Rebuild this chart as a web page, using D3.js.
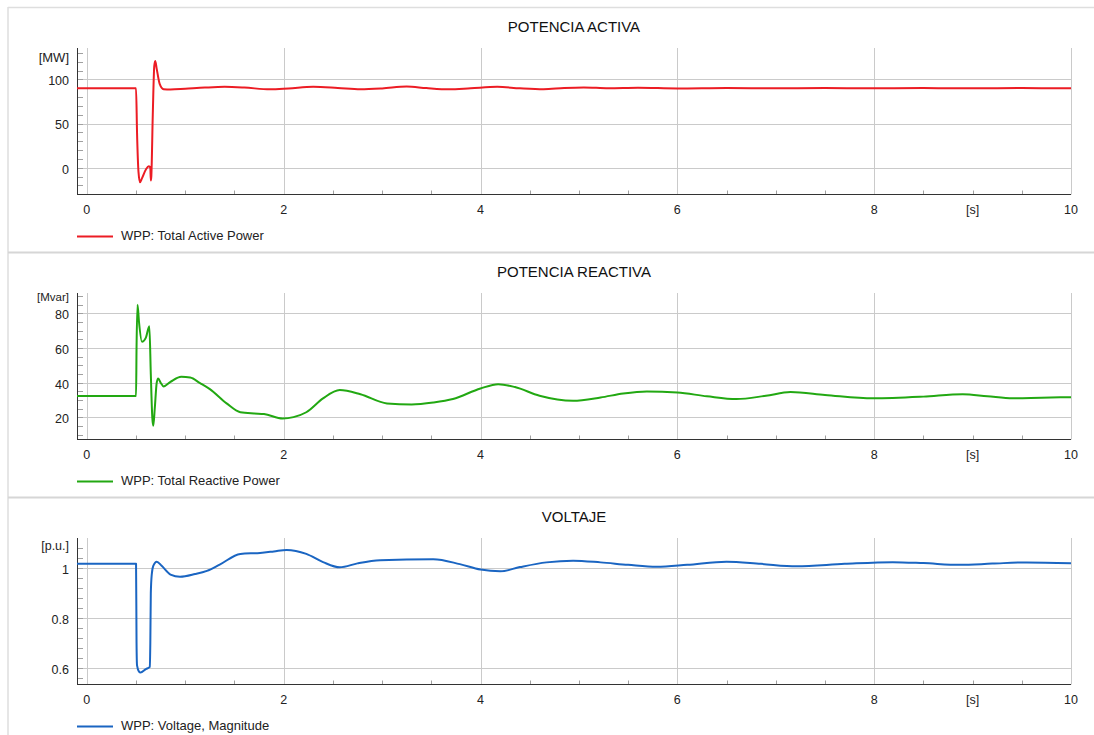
<!DOCTYPE html>
<html>
<head>
<meta charset="utf-8">
<script src="https://cdn.jsdelivr.net/npm/d3@7"></script>
<style>
  body { margin: 0; background: #fff; }
  svg { display: block; font-family: "Liberation Sans", Arial, sans-serif; }
</style>
</head>
<body>
<svg id="chart" width="1094" height="735"></svg>
<script>
// time axis
const xTicks = [0, 2, 4, 6, 8, 10];
const xMinorTicks = d3.range(0.5, 10, 0.5);

// active power [MW]
const timeP = [-0.1, 0.5, 0.51, 0.525, 0.54, 0.56, 0.6, 0.63, 0.645, 0.65, 0.655, 0.67, 0.685, 0.695, 0.71, 0.74, 0.78, 0.85,
  1.0, 1.2, 1.4, 1.6, 1.86, 2.05, 2.3, 2.55, 2.78, 3.0, 3.25, 3.45, 3.68, 3.9, 4.17, 4.4, 4.64, 4.85, 5.05, 5.3, 5.6,
  6.0, 6.5, 7.0, 7.5, 8.0, 8.5, 9.0, 9.5, 10];
const activePower = [90, 90, 40, -5, -16.4, -12, -2, 1.8, 0, -14.4, -10, 60, 115, 121, 112, 95, 89, 88.6,
  89.5, 90.8, 91.6, 90.8, 88.8, 89.8, 91.6, 90.3, 88.8, 89.8, 92, 90.2, 88.8, 90, 91.6, 90, 89, 90.4, 91, 90, 90.6,
  89.8, 90.4, 89.9, 90.3, 89.9, 90.2, 90, 90.2, 90];
const pMajor = [0, 50, 100];
const pMinor = d3.range(-30, 131, 10);

// reactive power [Mvar]
const timeQ = [-0.1, 0.5, 0.505, 0.515, 0.53, 0.56, 0.6, 0.635, 0.65, 0.665, 0.675, 0.69, 0.71, 0.725, 0.75, 0.78, 0.85, 0.96,
  1.05, 1.15, 1.25, 1.42, 1.56, 1.7, 1.8, 1.99, 2.1, 2.23, 2.4, 2.57, 2.78, 3.05, 3.3, 3.52, 3.72, 4.0, 4.18, 4.35, 4.6,
  4.94, 5.22, 5.45, 5.69, 6.0, 6.3, 6.6, 6.9, 7.15, 7.5, 7.99, 8.5, 8.9, 9.15, 9.41, 9.7, 10];
const reactivePower = [32.3, 32.3, 60, 85, 75, 63.6, 66, 72.5, 45, 20, 15.2, 25, 40, 42.5, 40, 37.9, 40.5, 43.4,
  43, 39.8, 36.3, 28.1, 23, 22.3, 22, 19.4, 20.2, 23, 31, 35.8, 33.4, 28.1, 27.5, 28.6, 30.6, 36.7, 39.2, 37.5, 32.5,
  29.6, 31.5, 33.8, 35, 34.4, 32.2, 30.6, 32.5, 34.6, 33, 31, 32, 33.4, 32.2, 31, 31.4, 31.7];
const qMajor = [20, 40, 60, 80];
const qMinor = d3.range(10, 91, 5);

// voltage [p.u.]
const timeV = [-0.1, 0.5, 0.505, 0.51, 0.53, 0.545, 0.6, 0.64, 0.645, 0.65, 0.66, 0.675, 0.71, 0.76, 0.85, 0.947,
  1.1, 1.22, 1.35, 1.56, 1.76, 1.9, 2.03, 2.23, 2.4, 2.57, 2.75, 2.98, 3.52, 3.79, 4.0, 4.2, 4.4, 4.67, 4.94,
  5.22, 5.5, 5.79, 6.1, 6.5, 6.85, 7.21, 7.7, 8.19, 8.5, 8.87, 9.2, 9.55, 10];
const voltage = [1.0185, 1.0185, 0.7, 0.61, 0.585, 0.581, 0.595, 0.604, 0.7, 0.9, 0.977, 1.01, 1.027, 1.01, 0.975, 0.966,
  0.977, 0.99, 1.015, 1.058, 1.062, 1.068, 1.074, 1.058, 1.025, 1.004, 1.02, 1.033, 1.037, 1.017, 0.995, 0.988, 1.005, 1.024, 1.031,
  1.024, 1.014, 1.006, 1.014, 1.027, 1.018, 1.008, 1.018, 1.025, 1.021, 1.014, 1.019, 1.024, 1.02];
const vMajor = [0.6, 0.8, 1];
const vMinor = d3.range(0.56, 1.09, 0.04);

const panels = [
  { top: 7, title: 'POTENCIA ACTIVA', unit: '[MW]', unitSize: 13, unitDy: 11, legend: 'WPP: Total Active Power',
    color: '#ec1c24', t: timeP, v: activePower, domain: [-30.3, 135.6], major: pMajor, minor: pMinor, fmt: d3.format('d') },
  { top: 252, title: 'POTENCIA REACTIVA', unit: '[Mvar]', unitSize: 11.5, unitDy: 5, legend: 'WPP: Total Reactive Power',
    color: '#22a812', t: timeQ, v: reactivePower, domain: [7.3, 91.7], major: qMajor, minor: qMinor, fmt: d3.format('d') },
  { top: 497, title: 'VOLTAJE', unit: '[p.u.]', unitSize: 12.5, unitDy: 9, legend: 'WPP: Voltage, Magnitude',
    color: '#1a65c2', t: timeV, v: voltage, domain: [0.533, 1.122], major: vMajor, minor: vMinor, fmt: d => d3.format('~g')(d) }
];

const svg = d3.select('#chart');
const left = 77, right = 1071;

// frame
svg.append('line').attr('x1', 8).attr('x2', 1094).attr('y1', 7.5).attr('y2', 7.5)
  .attr('stroke', '#dedede').attr('stroke-width', 1.5);
svg.append('line').attr('x1', 8).attr('x2', 8).attr('y1', 7).attr('y2', 735)
  .attr('stroke', '#dedede').attr('stroke-width', 1.5);
[252.5, 497.5].forEach(y => {
  svg.append('line').attr('x1', 8).attr('x2', 1094).attr('y1', y).attr('y2', y)
    .attr('stroke', '#d6d6d6').attr('stroke-width', 2);
});

const x = d3.scaleLinear().domain([-0.1, 10]).range([left, right]);

panels.forEach(p => {
  const plotTop = p.top + 41;
  const plotBottom = p.top + 187.5;
  const y = d3.scaleLinear().domain(p.domain).range([plotBottom, plotTop]);
  const g = svg.append('g');

  g.append('text')
    .attr('x', 574).attr('y', p.top + 21)
    .attr('text-anchor', 'middle').attr('dominant-baseline', 'middle')
    .style('font-size', '15px').attr('fill', '#111')
    .text(p.title);

  // grid
  g.selectAll('.hgrid').data(p.major).enter().append('line')
    .attr('x1', left).attr('x2', right)
    .attr('y1', d => Math.round(y(d)) + 0.5).attr('y2', d => Math.round(y(d)) + 0.5)
    .attr('stroke', '#cacaca');
  g.selectAll('.vgrid').data(xTicks).enter().append('line')
    .attr('x1', d => Math.round(x(d)) + 0.5).attr('x2', d => Math.round(x(d)) + 0.5)
    .attr('y1', plotTop).attr('y2', plotBottom)
    .attr('stroke', '#cacaca');

  // minor ticks
  g.selectAll('.yminor').data(p.minor).enter().append('line')
    .attr('x1', left).attr('x2', left + 6)
    .attr('y1', d => Math.round(y(d)) + 0.5).attr('y2', d => Math.round(y(d)) + 0.5)
    .attr('stroke', '#a0a0a0');
  g.selectAll('.xminor').data(xMinorTicks.filter(d => d % 2 !== 0)).enter().append('line')
    .attr('x1', d => Math.round(x(d)) + 0.5).attr('x2', d => Math.round(x(d)) + 0.5)
    .attr('y1', plotBottom - 4).attr('y2', plotBottom)
    .attr('stroke', '#a0a0a0');

  // axis lines
  g.append('line').attr('x1', left + 0.5).attr('x2', left + 0.5).attr('y1', plotTop).attr('y2', plotBottom)
    .attr('stroke', '#333');
  g.append('line').attr('x1', left).attr('x2', right).attr('y1', plotBottom).attr('y2', plotBottom)
    .attr('stroke', '#333');

  // tick labels
  g.selectAll('.ylab').data(p.major).enter().append('text')
    .attr('x', 69).attr('y', d => y(d) + 2.5)
    .attr('text-anchor', 'end').attr('dominant-baseline', 'middle')
    .style('font-size', '12.5px').attr('fill', '#222')
    .text(p.fmt);
  g.append('text')
    .attr('x', 69).attr('y', plotTop + p.unitDy)
    .attr('text-anchor', 'end').attr('dominant-baseline', 'middle')
    .style('font-size', p.unitSize + 'px').attr('fill', '#222')
    .text(p.unit);
  g.selectAll('.xlab').data(xTicks).enter().append('text')
    .attr('x', d => x(d)).attr('y', plotBottom + 16)
    .attr('text-anchor', 'middle').attr('dominant-baseline', 'middle')
    .style('font-size', '12.5px').attr('fill', '#222')
    .text(d => d);
  g.append('text')
    .attr('x', x(9)).attr('y', plotBottom + 16)
    .attr('text-anchor', 'middle').attr('dominant-baseline', 'middle')
    .style('font-size', '12.5px').attr('fill', '#222')
    .text('[s]');

  // curve
  const pts = p.t.map((t, i) => [t, p.v[i]]);
  const line = d3.line().x(d => x(d[0])).y(d => y(d[1])).curve(d3.curveMonotoneX);
  g.append('path').datum(pts)
    .attr('d', line)
    .attr('fill', 'none').attr('stroke', p.color).attr('stroke-width', 2)
    .attr('stroke-linejoin', 'round');

  // legend
  const ly = plotBottom + 42;
  g.append('line').attr('x1', 77).attr('x2', 113).attr('y1', ly).attr('y2', ly)
    .attr('stroke', p.color).attr('stroke-width', 2);
  g.append('text')
    .attr('x', 121).attr('y', ly)
    .attr('dominant-baseline', 'middle')
    .style('font-size', '13px').attr('fill', '#222')
    .text(p.legend);
});
</script>
</body>
</html>
